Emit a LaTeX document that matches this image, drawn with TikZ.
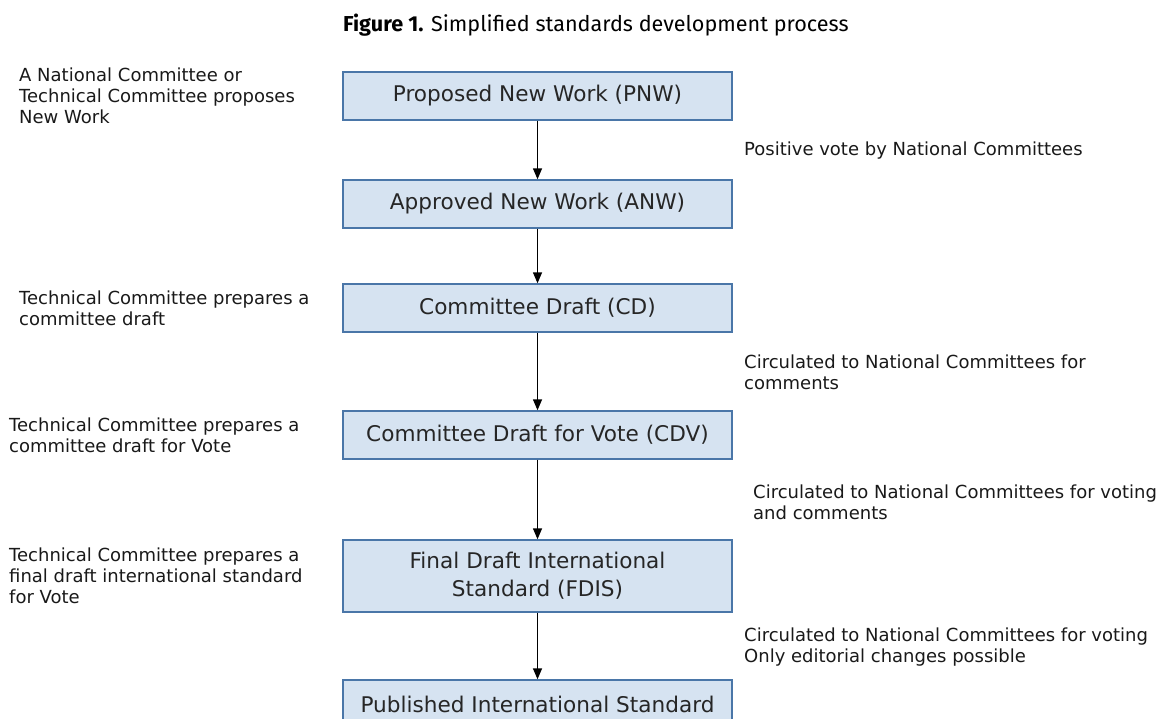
\documentclass[tikz,border=0pt]{standalone}
\usepackage{fontspec}
\setmainfont{DejaVu Sans}
\newfontfamily\titlefont{Fira Sans}
\usetikzlibrary{arrows.meta}
\definecolor{boxfill}{HTML}{D6E3F1}
\definecolor{boxline}{HTML}{4A76A8}
\tikzset{
  stepbox/.style={draw=boxline, fill=boxfill, line width=1.4pt, minimum width=389pt, minimum height=48pt, inner sep=0pt, align=center, font=\fontsize{21.6}{28}\selectfont, text=black!85},
  lbl/.style={anchor=west, inner sep=0pt, align=left, font=\fontsize{18}{20.8}\selectfont, text=black!90},
  flow/.style={line width=1.4pt, -{Triangle[length=11pt,width=9pt]}}
}
\begin{document}
\begin{tikzpicture}[x=1pt,y=-1pt]
\useasboundingbox (0,0) rectangle (1158,718);
\clip (0,0) rectangle (1158,718);
\node[anchor=west, inner sep=0pt, font=\titlefont\fontsize{21.6}{24}\selectfont] (title) at (343,25) {\textbf{Figure 1.} Simplified standards development process};

\node[stepbox] (pnw) at (537.5,96) {Proposed New Work (PNW)};
\node[stepbox] (anw) at (537.5,204) {Approved New Work (ANW)};
\node[stepbox] (cd) at (537.5,308) {Committee Draft (CD)};
\node[stepbox] (cdv) at (537.5,435) {Committee Draft for Vote (CDV)};
\node[stepbox, minimum height=72pt] (fdis) at (537.5,576) {Final Draft International\\Standard (FDIS)};
\node[stepbox] (pub) at (537.5,704) {Published International Standard};

\draw[flow] (pnw.south) -- (anw.north);
\draw[flow] (anw.south) -- (cd.north);
\draw[flow] (cd.south) -- (cdv.north);
\draw[flow] (cdv.south) -- (fdis.north);
\draw[flow] (fdis.south) -- (pub.north);

\node[lbl] (l1) at (19,96) {A National Committee or\\Technical Committee proposes\\New Work};
\node[lbl] (l2) at (19,308) {Technical Committee prepares a\\committee draft};
\node[lbl] (l3) at (9,435) {Technical Committee prepares a\\committee draft for Vote};
\node[lbl] (l4) at (9,576) {Technical Committee prepares a\\final draft international standard\\for Vote};

\node[lbl] (r1) at (744,151) {Positive vote by National Committees};
\node[lbl] (r2) at (744,372) {Circulated to National Committees for\\comments};
\node[lbl] (r3) at (753,502) {Circulated to National Committees for voting\\and comments};
\node[lbl] (r4) at (744,647) {Circulated to National Committees for voting\\Only editorial changes possible};
\end{tikzpicture}
\end{document}
